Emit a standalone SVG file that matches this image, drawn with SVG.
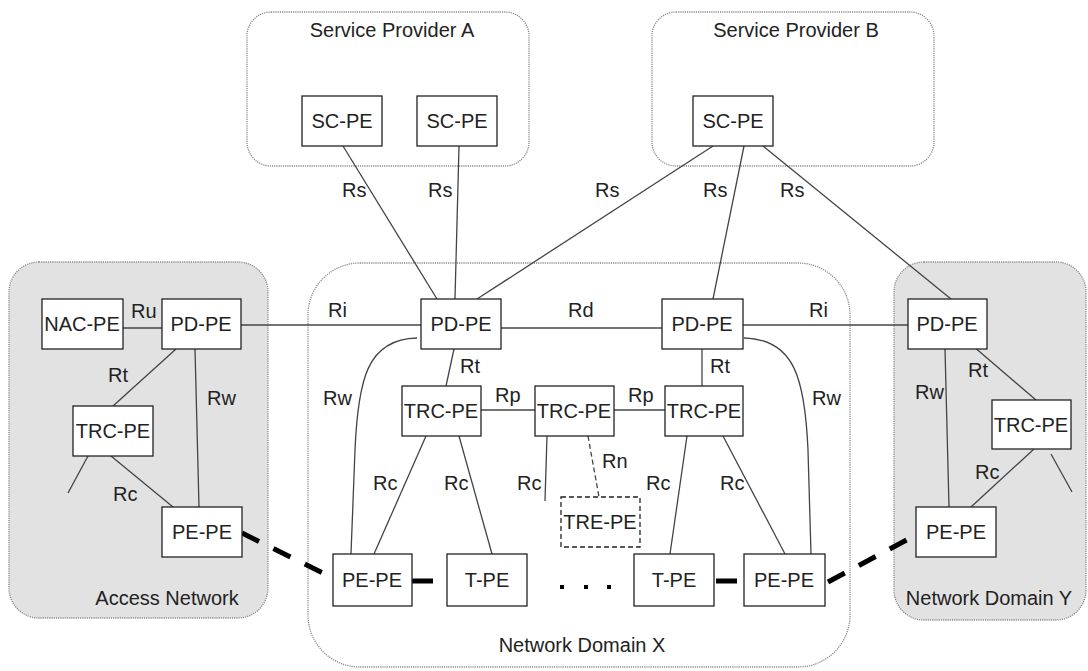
<svg xmlns="http://www.w3.org/2000/svg" width="1088" height="671" viewBox="0 0 1088 671">
<style>
.ct{stroke:#8a8a8a;stroke-width:1.3;stroke-dasharray:1.2 1}
.gr{fill:#e2e2e2}
.wh{fill:#ffffff}
.nd{fill:none;stroke:#222;stroke-width:1.3}
.ndf{fill:#fff;stroke:#222;stroke-width:1.3}
.dsh{stroke-dasharray:5 3}
text{font-family:"Liberation Sans",Arial,sans-serif;font-size:20px;fill:#222}
.c{text-anchor:middle}
.ln{fill:none;stroke:#444;stroke-width:1.3}
.lnd{fill:none;stroke:#444;stroke-width:1.3;stroke-dasharray:5 3}
.thk{fill:none;stroke:#000;stroke-width:5}
.thd{fill:none;stroke:#000;stroke-width:5;stroke-dasharray:19 16}
</style>
<rect width="1088" height="671" fill="#fff"/>
<g id="containers">
<g id="sp-a"><rect class="ct wh" x="247" y="12" width="282" height="154" rx="24"/><text class="c" x="392" y="37">Service Provider A</text></g>
<g id="sp-b"><rect class="ct wh" x="652" y="12" width="282" height="154" rx="24"/><text class="c" x="796" y="37">Service Provider B</text></g>
<g id="access"><rect class="ct gr" x="9" y="262" width="259" height="356" rx="30"/><text class="c" x="167" y="605">Access Network</text></g>
<g id="domain-x"><rect class="ct wh" x="308" y="263" width="542" height="404" rx="52"/><text class="c" x="582" y="652">Network Domain X</text></g>
<g id="domain-y"><rect class="ct gr" x="894" y="262" width="192" height="358" rx="30"/><text class="c" x="989" y="605">Network Domain Y</text></g>
</g>
<g id="connectors">
<line class="ln" x1="343" y1="146" x2="437" y2="299"/>
<line class="ln" x1="459" y1="146" x2="455" y2="299"/>
<line class="ln" x1="713" y1="146" x2="477" y2="299"/>
<line class="ln" x1="744" y1="146" x2="713" y2="299"/>
<line class="ln" x1="763" y1="146" x2="951" y2="299"/>
<line class="ln" x1="123" y1="328" x2="162" y2="328"/>
<line class="ln" x1="241" y1="325" x2="421" y2="325"/>
<line class="ln" x1="501" y1="328" x2="662" y2="328"/>
<line class="ln" x1="743" y1="325" x2="908" y2="325"/>
<line class="ln" x1="176" y1="349" x2="113" y2="406"/>
<line class="ln" x1="195" y1="349" x2="199" y2="507"/>
<line class="ln" x1="88" y1="456" x2="68" y2="493"/>
<line class="ln" x1="111" y1="456" x2="173" y2="507"/>
<path class="ln" d="M417 338 C367 339 358 380 355 450 L351 554"/>
<path class="ln" d="M744 338 C795 339 805 380 808 450 L811 554"/>
<line class="ln" x1="454" y1="349" x2="446" y2="386"/>
<line class="ln" x1="702" y1="349" x2="702" y2="386"/>
<line class="ln" x1="481" y1="410" x2="535" y2="410"/>
<line class="ln" x1="614" y1="410" x2="665" y2="410"/>
<line class="ln" x1="426" y1="436" x2="374" y2="554"/>
<line class="ln" x1="459" y1="436" x2="492" y2="554"/>
<line class="ln" x1="547" y1="436" x2="545" y2="501"/>
<line class="lnd" x1="588" y1="436" x2="599" y2="497"/>
<line class="ln" x1="687" y1="436" x2="670" y2="554"/>
<line class="ln" x1="723" y1="436" x2="785" y2="554"/>
<line class="ln" x1="945" y1="349" x2="949" y2="507"/>
<line class="ln" x1="973" y1="346" x2="1036" y2="400"/>
<line class="ln" x1="1034" y1="449" x2="971" y2="507"/>
<line class="ln" x1="1051" y1="454" x2="1072" y2="492"/>
<line class="thd" x1="242" y1="533" x2="333" y2="578"/>
<line class="thd" x1="828" y1="582" x2="916" y2="535"/>
<line class="thk" x1="412" y1="581" x2="433" y2="581"/>
<line class="thk" x1="716" y1="581" x2="737" y2="581"/>
<rect x="560" y="585" width="4" height="4" fill="#000"/>
<rect x="584" y="585" width="4" height="4" fill="#000"/>
<rect x="607" y="585" width="4" height="4" fill="#000"/>
<text x="342" y="197">Rs</text>
<text x="428" y="197">Rs</text>
<text x="595" y="197">Rs</text>
<text x="703" y="197">Rs</text>
<text x="780" y="197">Rs</text>
<text x="131" y="318">Ru</text>
<text x="108" y="382">Rt</text>
<text x="207" y="405">Rw</text>
<text x="113" y="501">Rc</text>
<text x="328" y="317">Ri</text>
<text x="568" y="317">Rd</text>
<text x="809" y="317">Ri</text>
<text x="323" y="405">Rw</text>
<text x="812" y="405">Rw</text>
<text x="460" y="373">Rt</text>
<text x="710" y="373">Rt</text>
<text x="495" y="402">Rp</text>
<text x="628" y="402">Rp</text>
<text x="373" y="490">Rc</text>
<text x="444" y="490">Rc</text>
<text x="517" y="490">Rc</text>
<text x="602" y="468">Rn</text>
<text x="646" y="490">Rc</text>
<text x="720" y="490">Rc</text>
<text x="915" y="399">Rw</text>
<text x="968" y="377">Rt</text>
<text x="975" y="479">Rc</text>
</g>
<g id="sc-pe-a1"><rect class="ndf" x="302" y="96" width="80" height="50"/><text class="c" x="342" y="128">SC-PE</text></g>
<g id="sc-pe-a2"><rect class="ndf" x="417" y="96" width="80" height="50"/><text class="c" x="457" y="128">SC-PE</text></g>
<g id="sc-pe-b"><rect class="ndf" x="693" y="96" width="80" height="50"/><text class="c" x="733" y="128">SC-PE</text></g>
<g id="nac-pe"><rect class="ndf" x="42" y="299" width="81" height="50"/><text class="c" x="82" y="331">NAC-PE</text></g>
<g id="pd-pe-an"><rect class="ndf" x="162" y="299" width="79" height="50"/><text class="c" x="201" y="331">PD-PE</text></g>
<g id="trc-pe-an"><rect class="ndf" x="73" y="406" width="80" height="50"/><text class="c" x="113" y="438">TRC-PE</text></g>
<g id="pe-pe-an"><rect class="ndf" x="162" y="507" width="80" height="50"/><text class="c" x="202" y="539">PE-PE</text></g>
<g id="pd-pe-x1"><rect class="ndf" x="421" y="299" width="80" height="50"/><text class="c" x="461" y="331">PD-PE</text></g>
<g id="pd-pe-x2"><rect class="ndf" x="662" y="299" width="81" height="50"/><text class="c" x="702" y="331">PD-PE</text></g>
<g id="trc-pe-x1"><rect class="ndf" x="402" y="386" width="79" height="50"/><text class="c" x="441" y="418">TRC-PE</text></g>
<g id="trc-pe-x2"><rect class="ndf" x="535" y="386" width="79" height="50"/><text class="c" x="574" y="418">TRC-PE</text></g>
<g id="trc-pe-x3"><rect class="ndf" x="665" y="386" width="78" height="50"/><text class="c" x="704" y="418">TRC-PE</text></g>
<g id="tre-pe"><rect class="ndf dsh" x="561" y="497" width="79" height="50"/><text class="c" x="600" y="529">TRE-PE</text></g>
<g id="pe-pe-x1"><rect class="ndf" x="333" y="554" width="79" height="52"/><text class="c" x="372" y="587">PE-PE</text></g>
<g id="t-pe-x1"><rect class="ndf" x="447" y="554" width="80" height="52"/><text class="c" x="487" y="587">T-PE</text></g>
<g id="t-pe-x2"><rect class="ndf" x="634" y="554" width="80" height="52"/><text class="c" x="674" y="587">T-PE</text></g>
<g id="pe-pe-x2"><rect class="ndf" x="744" y="554" width="81" height="52"/><text class="c" x="784" y="587">PE-PE</text></g>
<g id="pd-pe-y"><rect class="ndf" x="908" y="299" width="79" height="50"/><text class="c" x="947" y="331">PD-PE</text></g>
<g id="trc-pe-y"><rect class="ndf" x="992" y="400" width="79" height="49"/><text class="c" x="1031" y="432">TRC-PE</text></g>
<g id="pe-pe-y"><rect class="ndf" x="916" y="507" width="80" height="50"/><text class="c" x="956" y="539">PE-PE</text></g>
</svg>
